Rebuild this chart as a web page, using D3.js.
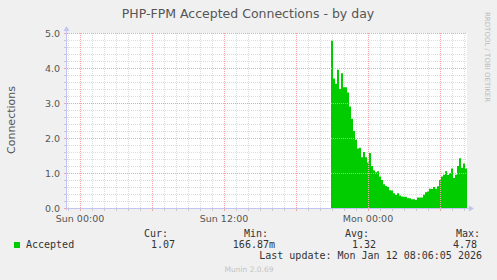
<!DOCTYPE html>
<html>
<head>
<meta charset="utf-8">
<script src="https://cdn.jsdelivr.net/npm/d3@7"></script>
<style>
  body { margin: 0; background: #f0f0f0; }
  svg { display: block; }
</style>
</head>
<body>
<div id="chart"></div>
<script>
// data, one value every 10 minutes from Sun 20:55
const startTime = new Date(2026, 0, 11, 20, 55);
const stepMinutes = 10;
const accepted = [
  4.78, 3.70, 3.55, 3.95, 3.40, 3.85, 3.45, 3.45, 3.30, 2.90,
  2.55, 2.20, 1.95, 1.70, 1.72, 1.45, 1.60, 1.45, 1.30, 1.57,
  1.20, 1.08, 1.02, 1.05, 0.90, 0.80, 0.68, 0.63, 0.60, 0.51,
  0.50, 0.42, 0.37, 0.42, 0.36, 0.33, 0.32, 0.32, 0.28, 0.28,
  0.25, 0.25, 0.23, 0.30, 0.30, 0.30, 0.38, 0.45, 0.47, 0.55,
  0.54, 0.60, 0.55, 0.62, 0.80, 0.90, 0.95, 1.05, 0.94, 1.00,
  1.13, 0.86, 0.95, 1.20, 1.42, 1.15, 1.27, 1.13
];

const yTicks = [0, 1, 2, 3, 4, 5];
const xLabelTimes = [new Date(2026, 0, 11, 0), new Date(2026, 0, 11, 12), new Date(2026, 0, 12, 0)];

const statLabels = ["Cur:", "Min:", "Avg:", "Max:"];
const statValues = ["1.07", "166.87m", "1.32", "4.78"];

const title = "PHP-FPM Accepted Connections - by day";
const lastUpdate = "Last update: Mon Jan 12 08:06:05 2026";

const width = 497, height = 280;
const plot = { left: 67, right: 467, top: 33, bottom: 208 };

const svg = d3.select("#chart").append("svg")
    .attr("width", width)
    .attr("height", height)
    .style("font-family", "'DejaVu Sans', sans-serif");

svg.append("rect")
    .attr("width", width).attr("height", height)
    .attr("fill", "#f0f0f0");

// time scale: Sun 00:00 sits 13px right of the plot edge, 5 minutes per pixel
const t0 = new Date(2026, 0, 10, 22, 55);
const t1 = new Date(2026, 0, 12, 8, 15);
const x = d3.scaleTime().domain([t0, t1]).range([plot.left, plot.right]);
const y = d3.scaleLinear().domain([0, 5]).range([plot.bottom, plot.top]);

svg.append("rect")
    .attr("x", plot.left).attr("y", plot.top)
    .attr("width", plot.right - plot.left)
    .attr("height", plot.bottom - plot.top)
    .attr("fill", "#ffffff");

// grid lines
const grid = svg.append("g").attr("shape-rendering", "crispEdges");
const minorColor = "#dcdcdc";
const majorColor = "#f5a3a3";

const minorX = d3.timeHour.range(t0, t1).filter(d => d.getHours() % 6 !== 0);
const majorX = d3.timeHour.every(6).range(t0, t1);
const minorY = d3.range(0, 5.01, 0.2).filter(v => Math.abs(v - Math.round(v)) > 0.01);

grid.selectAll("line.minx").data(minorX).enter().append("line")
    .attr("x1", d => Math.round(x(d)) + 0.5).attr("x2", d => Math.round(x(d)) + 0.5)
    .attr("y1", plot.top).attr("y2", plot.bottom)
    .attr("stroke", minorColor).attr("stroke-dasharray", "1,1");

grid.selectAll("line.miny").data(minorY).enter().append("line")
    .attr("x1", plot.left).attr("x2", plot.right)
    .attr("y1", d => Math.round(y(d)) + 0.5).attr("y2", d => Math.round(y(d)) + 0.5)
    .attr("stroke", minorColor).attr("stroke-dasharray", "1,1");

// the area, stepped like rrdtool draws it
const points = accepted.map((v, i) => ({ t: new Date(startTime.getTime() + i * stepMinutes * 60000), v: v }));
// repeat the last sample so the final step has width
points.push({ t: new Date(startTime.getTime() + accepted.length * stepMinutes * 60000), v: accepted[accepted.length - 1] });

const area = d3.area()
    .curve(d3.curveStepAfter)
    .x(d => x(d.t))
    .y0(plot.bottom)
    .y1(d => y(d.v));

svg.append("path")
    .datum(points)
    .attr("d", area)
    .attr("fill", "#00cc00");

// major grid drawn on top of the area
const major = svg.append("g").attr("shape-rendering", "crispEdges");
major.selectAll("line.majx").data(majorX).enter().append("line")
    .attr("x1", d => Math.round(x(d)) + 0.5).attr("x2", d => Math.round(x(d)) + 0.5)
    .attr("y1", plot.top).attr("y2", plot.bottom)
    .attr("stroke", majorColor).attr("stroke-dasharray", "1,1");
major.selectAll("line.majy").data(yTicks.filter(v => v > 0)).enter().append("line")
    .attr("x1", plot.left).attr("x2", plot.right)
    .attr("y1", d => Math.round(y(d)) + 0.5).attr("y2", d => Math.round(y(d)) + 0.5)
    .attr("stroke", majorColor).attr("stroke-dasharray", "1,1");

// axes with arrows
const axisColor = "#c4c4f2";
const axes = svg.append("g").attr("shape-rendering", "crispEdges");
axes.append("line")
    .attr("x1", plot.left - 0.5).attr("x2", plot.left - 0.5)
    .attr("y1", plot.bottom + 2).attr("y2", plot.top - 4)
    .attr("stroke", axisColor);
axes.append("line")
    .attr("x1", plot.left - 3).attr("x2", plot.right + 3)
    .attr("y1", plot.bottom + 0.5).attr("y2", plot.bottom + 0.5)
    .attr("stroke", axisColor);

svg.append("path")
    .attr("d", `M${plot.left - 3.5},${plot.top - 2} L${plot.left - 0.5},${plot.top - 7} L${plot.left + 2.5},${plot.top - 2} Z`)
    .attr("fill", axisColor);
svg.append("path")
    .attr("d", `M${plot.right + 2},${plot.bottom - 2.5} L${plot.right + 7},${plot.bottom + 0.5} L${plot.right + 2},${plot.bottom + 3.5} Z`)
    .attr("fill", axisColor);

// small ticks on the axes
axes.selectAll("line.tx").data(minorX.concat(majorX)).enter().append("line")
    .attr("x1", d => Math.round(x(d)) + 0.5).attr("x2", d => Math.round(x(d)) + 0.5)
    .attr("y1", plot.bottom + 1).attr("y2", plot.bottom + 3)
    .attr("stroke", d => d.getHours() % 6 === 0 ? majorColor : "#c8c8c8");
axes.selectAll("line.ty").data(minorY.concat(yTicks)).enter().append("line")
    .attr("x1", plot.left - 3).attr("x2", plot.left - 1)
    .attr("y1", d => Math.round(y(d)) + 0.5).attr("y2", d => Math.round(y(d)) + 0.5)
    .attr("stroke", d => Number.isInteger(d) ? majorColor : "#c8c8c8");

// tick labels
const fmtY = d3.format(".1f");
svg.append("g").selectAll("text").data(yTicks).enter().append("text")
    .attr("x", plot.left - 7).attr("y", d => y(d) + 3.5)
    .attr("text-anchor", "end")
    .attr("font-size", "9.5px").attr("fill", "#555")
    .text(d => fmtY(d));

const fmtX = d3.timeFormat("%a %H:%M");
svg.append("g").selectAll("text").data(xLabelTimes).enter().append("text")
    .attr("x", d => x(d)).attr("y", 222)
    .attr("text-anchor", "middle")
    .attr("font-size", "9.5px").attr("fill", "#555")
    .text(d => fmtX(d));

// titles
svg.append("text")
    .attr("x", 248).attr("y", 18)
    .attr("text-anchor", "middle")
    .attr("font-size", "12.5px").attr("fill", "#555")
    .text(title);

svg.append("text")
    .attr("transform", "translate(15,120) rotate(-90)")
    .attr("text-anchor", "middle")
    .attr("font-size", "11px").attr("fill", "#555")
    .text("Connections");

svg.append("text")
    .attr("transform", "translate(485,12) rotate(90)")
    .attr("font-size", "7px").attr("fill", "#bbbbbb")
    .text("RRDTOOL / TOBI OETIKER");

// legend
const mono = "'DejaVu Sans Mono', monospace";
svg.append("rect")
    .attr("x", 14).attr("y", 242).attr("width", 6).attr("height", 6)
    .attr("fill", "#00cc00");
svg.append("text")
    .attr("x", 26).attr("y", 248)
    .attr("font-family", mono).attr("font-size", "10px").attr("fill", "#333")
    .text("Accepted");

const labelEnds = [168, 268, 369, 480];
const valueEnds = [175, 275, 376, 477];
svg.append("g").selectAll("text").data(statLabels).enter().append("text")
    .attr("x", (d, i) => labelEnds[i]).attr("y", 237)
    .attr("text-anchor", "end")
    .attr("font-family", mono).attr("font-size", "10px").attr("fill", "#333")
    .text(d => d);
svg.append("g").selectAll("text").data(statValues).enter().append("text")
    .attr("x", (d, i) => valueEnds[i]).attr("y", 248)
    .attr("text-anchor", "end")
    .attr("font-family", mono).attr("font-size", "10px").attr("fill", "#333")
    .text(d => d);

svg.append("text")
    .attr("x", 482).attr("y", 259)
    .attr("text-anchor", "end")
    .attr("font-family", mono).attr("font-size", "10px").attr("fill", "#333")
    .text(lastUpdate);

svg.append("text")
    .attr("x", 249).attr("y", 272)
    .attr("text-anchor", "middle")
    .attr("font-size", "7.5px").attr("fill", "#c4c4c4")
    .text("Munin 2.0.69");
</script>
</body>
</html>
